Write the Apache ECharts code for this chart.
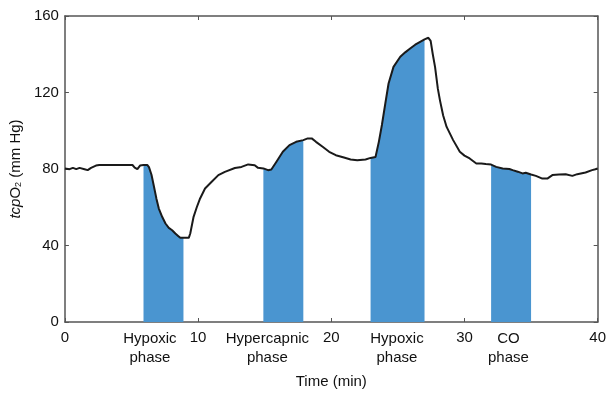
<!DOCTYPE html>
<html>
<head>
<meta charset="utf-8">
<title></title>
<script src="https://cdn.jsdelivr.net/npm/echarts@6/dist/echarts.min.js"></script>
</head>
<body style="margin:0;overflow:hidden;">
<div id="main" style="width:609px;height:395px;"></div>
<script type="text/javascript">
// tcpO2 trace (time in min, value in mm Hg)
var timeMin = [0, 0.35, 0.6, 0.85, 1.1, 1.47, 1.71, 1.96, 2.33, 2.58, 3.5, 4.5, 5.07, 5.24, 5.44, 5.64, 5.9, 6.18, 6.31, 6.5, 6.68, 6.87, 7.05, 7.3, 7.55, 7.8, 8.05, 8.29, 8.5, 8.66, 8.9, 9.3, 9.41, 9.66, 9.9, 10.15, 10.52, 11.02, 11.52, 12.01, 12.76, 13.26, 13.76, 14.25, 14.5, 14.9, 15.25, 15.5, 15.87, 16.36, 16.86, 17.36, 17.9, 18.23, 18.53, 18.85, 19.35, 19.84, 20.34, 20.95, 21.45, 21.95, 22.57, 22.95, 23.32, 23.57, 23.8, 24.05, 24.3, 24.67, 25.18, 25.55, 25.92, 26.3, 26.67, 27.0, 27.29, 27.46, 27.62, 27.79, 28.0, 28.16, 28.4, 28.66, 29.15, 29.65, 30.0, 30.39, 30.89, 31.26, 31.6, 32.0, 32.38, 32.87, 33.37, 33.62, 34.0, 34.36, 34.6, 35.0, 35.36, 35.85, 36.22, 36.6, 37.1, 37.6, 38.1, 38.47, 39.09, 39.58, 39.83, 40];
var tcpO2 = [80.3, 79.9, 80.6, 79.9, 80.6, 79.9, 79.4, 80.6, 81.8, 82.1, 82.1, 82.1, 82.1, 80.7, 79.9, 81.8, 82.1, 82.1, 81, 77, 71, 64.5, 59.3, 55, 51.5, 49.2, 48, 46.3, 45, 44, 44, 44, 46.3, 55, 60, 64.6, 69.8, 73.3, 76.8, 78.5, 80.5, 81.1, 82.4, 82, 80.6, 80.3, 79.4, 79.7, 83.7, 89, 92.5, 94.2, 95.1, 96, 96, 94.2, 91.6, 89, 87.2, 86, 85, 84.6, 85, 85.8, 86.3, 94.2, 103, 114, 124.7, 133.4, 138.7, 141, 143, 145, 146.5, 147.8, 148.6, 147, 140, 133.4, 122, 115.9, 108, 102, 95.1, 89, 87, 85.5, 82.9, 82.9, 82.6, 82.3, 81.1, 80.3, 80, 79.4, 78.6, 77.7, 78, 77.1, 76.4, 75, 75, 76.8, 77.1, 77.3, 76.4, 77.3, 78.2, 79.4, 79.9, 80.3];

// shaded phases (start / end in min)
var phaseStart = [5.9, 14.9, 22.95, 32.0];
var phaseEnd = [8.9, 17.9, 27.0, 35.0];
var phaseNames = ['Hypoxic\nphase', 'Hypercapnic\nphase', 'Hypoxic\nphase', 'CO\nphase'];
var phaseLabelX = [6.38, 15.2, 24.93, 33.3];

var xTicks = [0, 10, 20, 30, 40];
var yTicks = [0, 40, 80, 120, 160];

var myChart = echarts.init(document.getElementById('main'));

var trace = timeMin.map(function (t, i) { return [t, tcpO2[i]]; });

var series = [];
for (var k = 0; k < phaseStart.length; k++) {
	series.push({
		type: 'line',
		data: trace.filter(function (p) { return p[0] >= phaseStart[k] && p[0] <= phaseEnd[k]; }),
		symbol: 'none',
		lineStyle: { width: 0 },
		areaStyle: { color: '#4a95d0', opacity: 1 },
		silent: true,
		z: 1
	});
}
series.push({
	type: 'line',
	data: trace,
	symbol: 'none',
	lineStyle: { color: '#1a1a1a', width: 2 },
	silent: true,
	z: 3
});
// phase names under the x axis
series.push({
	type: 'scatter',
	data: phaseLabelX.map(function (x) { return [x, 0]; }),
	symbolSize: 0,
	clip: false,
	silent: true,
	itemStyle: { opacity: 1 },
	label: {
		show: true,
		position: 'bottom',
		distance: 7,
		formatter: function (p) { return phaseNames[p.dataIndex]; },
		fontFamily: 'Liberation Sans',
		fontSize: 15,
		lineHeight: 19,
		color: '#111',
		opacity: 1,
		align: 'center'
	},
	z: 4
});

var axisCol = '#555';
var option = {
	animation: false,
	textStyle: { fontFamily: 'Liberation Sans' },
	grid: { left: 62, right: 10, top: 16, bottom: 73 },
	xAxis: [
		{
			type: 'value', min: xTicks[0], max: xTicks[xTicks.length - 1], interval: 10,
			name: 'Time (min)', nameLocation: 'middle', nameGap: 52,
			nameTextStyle: { fontSize: 15, color: '#111' },
			axisLine: { onZero: false, lineStyle: { color: axisCol, width: 1.5 } },
			axisTick: { inside: true, length: 4, lineStyle: { color: axisCol } },
			axisLabel: { fontSize: 15, color: '#111', margin: 8 },
			splitLine: { show: false }
		},
		{
			type: 'value', position: 'top', min: 0, max: 40, interval: 10,
			axisLine: { onZero: false, lineStyle: { color: axisCol, width: 1.5 } },
			axisTick: { inside: true, length: 4, lineStyle: { color: axisCol } },
			axisLabel: { show: false },
			splitLine: { show: false }
		}
	],
	yAxis: [
		{
			type: 'value', min: yTicks[0], max: yTicks[yTicks.length - 1], interval: 40,
			name: '{i|tcp}O{s|2} (mm Hg)', nameLocation: 'middle', nameGap: 40,
			nameTextStyle: {
				fontSize: 15, color: '#111',
				rich: {
					i: { fontStyle: 'italic', fontSize: 15, color: '#111' },
					s: { fontSize: 9, color: '#111', verticalAlign: 'bottom', padding: [6, 0, 0, 0] }
				}
			},
			axisLine: { show: true, onZero: false, lineStyle: { color: axisCol, width: 1.5 } },
			axisTick: { show: true, inside: true, length: 4, lineStyle: { color: axisCol } },
			axisLabel: { fontSize: 15, color: '#111', margin: 6 },
			splitLine: { show: false }
		},
		{
			type: 'value', position: 'right', min: 0, max: 160, interval: 40,
			axisLine: { show: true, onZero: false, lineStyle: { color: axisCol, width: 1.5 } },
			axisTick: { show: true, inside: true, length: 4, lineStyle: { color: axisCol } },
			axisLabel: { show: false },
			splitLine: { show: false }
		}
	],
	series: series
};
myChart.setOption(option);
</script>
</body>
</html>
